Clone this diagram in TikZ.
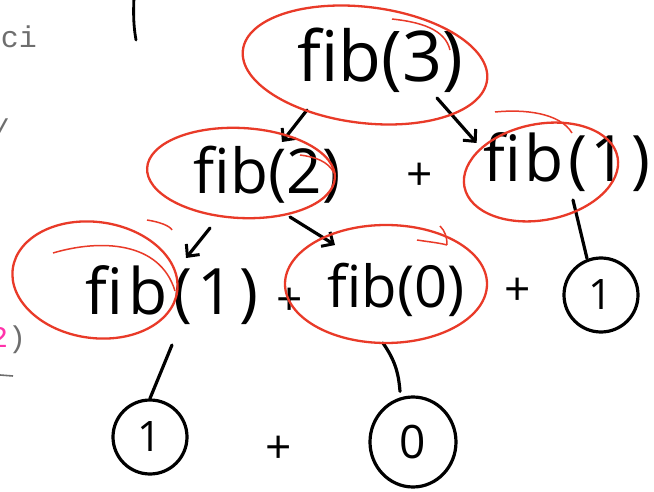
\documentclass[tikz,border=0pt]{standalone}
\usepackage{fontspec}
\setmainfont{Open Sans}
\setmonofont{Liberation Mono}
\usetikzlibrary{arrows.meta,shapes.geometric}
\definecolor{inkred}{RGB}{233,58,40}
\definecolor{codegray}{RGB}{110,110,110}
\definecolor{codepink}{RGB}{255,51,170}
\begin{document}
\begin{tikzpicture}[x=1pt,y=1pt,
  handtxt/.style={inner sep=0pt, text=black, font=\fontsize{62}{62}\selectfont},
  plussign/.style={inner sep=0pt, text=black, font=\fontsize{46}{46}\selectfont},
  valring/.style={circle, draw=black, line width=3.2pt, inner sep=0pt, minimum size=74pt, font=\fontsize{42}{42}\selectfont},
  valoval/.style={ellipse, draw=black, line width=3.2pt, inner sep=0pt, minimum width=86pt, minimum height=90pt, font=\fontsize{46}{46}\selectfont},
  ringred/.style={draw=inkred, line width=2.3pt},
  tailred/.style={draw=inkred, line width=1.5pt},
  wire/.style={draw=black, line width=3.2pt, line cap=round},
  wirearr/.style={wire, -{Straight Barb[length=9pt,width=17pt,line width=3pt]}},
  codetxt/.style={inner sep=0pt, font=\fontsize{30}{30}\ttfamily, text=codegray}]
\useasboundingbox (0,0) rectangle (654,491);
\fill[white] (0,0) rectangle (654,491);

% cut-off code on the left
\node[codetxt, anchor=base east] (codeci) at (37,443) {ci};
\node[codetxt, anchor=base east] (codeslash) at (10,350) {/};
\node[codetxt, anchor=base west] (codetwo) at (-10,144) {{\color{codepink}2})};
\draw[codegray, line width=1.6pt] (0,116) -- (13,115);

% stray pen mark at the top
\draw[wire, line width=2.8pt] (134,493) .. controls (133,475) and (134,462) .. (136,451);

% handwritten calls
\node[handtxt, font=\fontsize{70}{70}\selectfont] (fib3) at (380,431) {fib(3)};
\node[handtxt] (fib2) at (267,316) {fib(2)};
\node[handtxt, anchor=west, font=\fontsize{64}{64}\selectfont\addfontfeatures{LetterSpace=6}] (fib1r) at (483,329) {fib(1)};
\node[handtxt, font=\fontsize{64}{64}\selectfont\addfontfeatures{LetterSpace=8}] (fib1b) at (172,196) {fib(1)};
\node[handtxt, font=\fontsize{58}{58}\selectfont] (fib0) at (396,201) {fib(0)};

% plus signs
\node[plussign] (p1) at (420,314) {+};
\node[plussign] (p2) at (290,189) {+};
\node[plussign] (p3) at (518,199) {+};
\node[plussign] (p4) at (279,41) {+};

% base values
\node[valring] (oner) at (601,196) {1};
\node[valring] (oneb) at (150,54) {1};
\node[valoval] (zero) at (413,49) {0};

% connectors
\draw[wirearr] ([shift={(-73,-50)}]fib3.center) -- ([shift={(15,33)}]fib2.center);
\draw[wirearr] ([shift={(57,-38)}]fib3.center) -- ([shift={(-90,19)}]fib1r.center);
\draw[wirearr] ([shift={(-57,-53)}]fib2.center) -- ([shift={(14,37)}]fib1b.center);
\draw[wirearr] ([shift={(23,-42)}]fib2.center) -- ([shift={(-61,45)}]fib0.center);
\draw[wire] ([shift={(0,-50)}]fib1b.center) -- (oneb.north);
\draw[wire] ([shift={(-13,-53)}]fib0.center) to[bend left=15] ([shift={(-13,4)}]zero.north);
\draw[wire] ([shift={(90,-38)}]fib1r.west) -- ([shift={(-14,-2)}]oner.north);

% red circling
\draw[ringred, rotate around={-7:(365,426)}] (365,426) ellipse (123 and 58);
\draw[tailred] (392,472) .. controls (420,469) and (445,462) .. (450,441);
\draw[ringred, rotate around={-3:(241,318)}] (241,318) ellipse (94 and 45);
\draw[tailred] (300,336) .. controls (315,334) and (328,330) .. (334,318);
\draw[ringred, rotate around={11:(541,319)}] (541,319) ellipse (78 and 48);
\draw[tailred] (495,379) .. controls (525,382) and (560,378) .. (572,358);
\draw[ringred, rotate around={-8:(95,211)}] (95,211) ellipse (83 and 58);
\draw[tailred] (53,238) .. controls (100,252) and (160,250) .. (175,200);
\draw[tailred] (147,271) .. controls (160,269) and (170,265) .. (172,261);
\draw[ringred] (386,207) ellipse (101 and 59);
\draw[tailred] (417,251) .. controls (430,249) and (440,248) .. (447,246);
\draw[tailred] (440,265) .. controls (445,260) and (447,254) .. (447,246);
\end{tikzpicture}
\end{document}
